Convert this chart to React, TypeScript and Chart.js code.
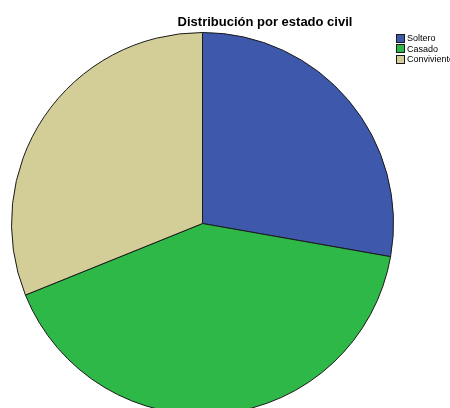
import React, { useEffect, useRef } from "react";
import { Chart, registerables } from "chart.js";

Chart.register(...registerables);

const TITLE = "Distribución por estado civil";
const CATEGORIES = ["Soltero", "Casado", "Conviviente"];
const COUNTS = [25, 37, 28];
const COLORS = ["#3E58AC", "#2EB848", "#D3CE97"];

export default function App() {
  const canvasRef = useRef<HTMLCanvasElement | null>(null);

  useEffect(() => {
    const canvas = canvasRef.current;
    if (!canvas) return;
    const chart = new Chart(canvas, {
      type: "pie",
      data: {
        labels: CATEGORIES,
        datasets: [
          {
            data: COUNTS,
            backgroundColor: COLORS,
            borderColor: "#1a1a1a",
            borderWidth: 1,
            hoverOffset: 0,
            offset: 0,
          },
        ],
      },
      options: {
        responsive: false,
        animation: false,
        events: [],
        layout: { padding: { left: 11, top: 32, right: 56, bottom: 25 } },
        plugins: {
          legend: { display: false },
          title: { display: false },
          tooltip: { enabled: false },
        },
      },
    });
    return () => chart.destroy();
  }, []);

  return (
    <div
      style={{
        position: "absolute",
        left: 0,
        top: 0,
        width: 450,
        height: 408,
        overflow: "hidden",
        background: "#ffffff",
        fontFamily: "'Liberation Sans', Arial, sans-serif",
      }}
    >
      <canvas
        ref={canvasRef}
        width={450}
        height={440}
        style={{ position: "absolute", left: 0, top: 0, width: 450, height: 440 }}
      />
      <div
        style={{
          position: "absolute",
          left: 165,
          top: 15,
          width: 200,
          textAlign: "center",
          fontSize: 13,
          lineHeight: "13px",
          fontWeight: "bold",
          whiteSpace: "nowrap",
          color: "#000",
        }}
      >
        {TITLE}
      </div>
      <div style={{ position: "absolute", left: 396, top: 33 }}>
        {CATEGORIES.map((c, i) => (
          <div
            key={c}
            style={{
              display: "flex",
              alignItems: "center",
              height: 10.5,
              fontSize: 9,
              lineHeight: "10px",
              whiteSpace: "nowrap",
              color: "#000",
            }}
          >
            <span
              style={{
                display: "inline-block",
                width: 7,
                height: 7,
                background: COLORS[i],
                border: "1px solid #1a1a1a",
                marginRight: 2,
              }}
            />
            <span>{c}</span>
          </div>
        ))}
      </div>
    </div>
  );
}
